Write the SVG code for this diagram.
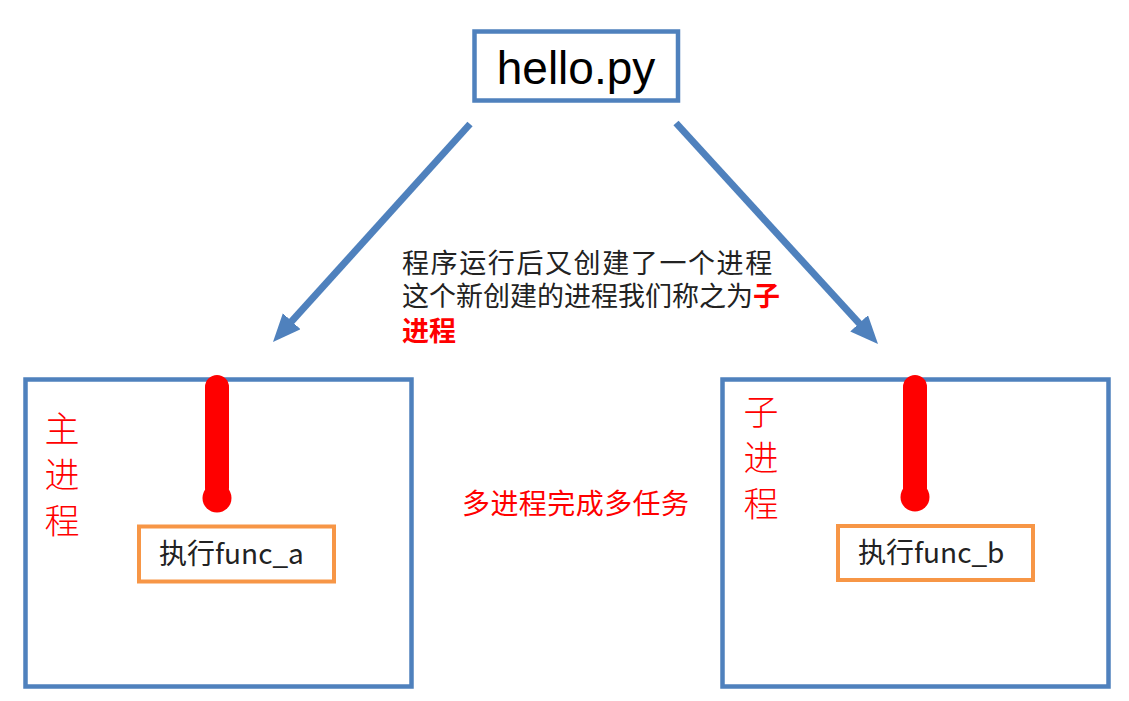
<svg xmlns="http://www.w3.org/2000/svg" width="1129" height="701" viewBox="0 0 1129 701">
<style>
.box{fill:none;stroke:#4f81bd;stroke-width:4.5}
.fbox{fill:#fff;stroke:#f79646;stroke-width:4}
.arrow{stroke:#4f81bd;stroke-width:7;fill:none;marker-end:url(#ah)}
.cjk{font-family:"Noto Sans CJK SC","Noto Sans CJK JP",sans-serif}
.side{font-family:"Noto Sans CJK SC",serif;font-size:35px;fill:#ff0000;writing-mode:vertical-rl;letter-spacing:11px;font-weight:300}
.mid{font-size:27px;fill:#222}
.fn{font-size:28px;fill:#222}
.bar{fill:#ff0000}
</style>
<defs>
<marker id="ah" markerUnits="userSpaceOnUse" markerWidth="30" markerHeight="26" refX="8" refY="12" orient="auto">
<path d="M0,0 L28,12 L0,24 z" fill="#4f81bd"/>
</marker>
</defs>
<rect width="1129" height="701" fill="#fff"/>
<g id="connectors">
<line class="arrow" x1="470" y1="124" x2="286.4" y2="327.2"/>
<line class="arrow" x1="676" y1="123" x2="864.5" y2="329.2"/>
</g>
<g id="hello">
<rect class="box" x="474.5" y="31.5" width="203.5" height="69" fill="#fff"/>
<text x="576" y="84" font-family="Liberation Sans, Arial, sans-serif" font-size="46" text-anchor="middle" fill="#000">hello.py</text>
</g>
<g id="note">
<text class="cjk mid" x="402" y="273"><tspan letter-spacing="1.6">程序运行后又创建了一个进程</tspan><tspan x="402" dy="33">这个新创建的进程我们称之为</tspan><tspan fill="#ff0000" font-weight="bold">子</tspan><tspan x="402" dy="35" fill="#ff0000" font-weight="bold">进程</tspan></text>
</g>
<g id="main-process">
<rect class="box" x="25.5" y="379.5" width="386" height="307"/>
<text class="side" x="62" y="411">主进程</text>
<rect class="bar" x="205" y="375" width="24" height="125" rx="12"/>
<circle class="bar" cx="217" cy="498" r="14.5"/>
</g>
<g id="func-a">
<rect class="fbox" x="139" y="526.5" width="195" height="55"/>
<text class="cjk fn" x="159" y="564">执行func_a</text>
</g>
<g id="child-process">
<rect class="box" x="722.5" y="379.5" width="386" height="307"/>
<text class="side" x="761" y="394">子进程</text>
<rect class="bar" x="903" y="375" width="24" height="125" rx="12"/>
<circle class="bar" cx="915" cy="497" r="14.5"/>
</g>
<g id="func-b">
<rect class="fbox" x="838" y="526" width="195" height="54"/>
<text class="cjk fn" x="858" y="563">执行func_b</text>
</g>
<g id="label">
<text class="cjk" x="462" y="514" font-size="28" fill="#ff0000" textLength="227" lengthAdjust="spacing">多进程完成多任务</text>
</g>
</svg>
